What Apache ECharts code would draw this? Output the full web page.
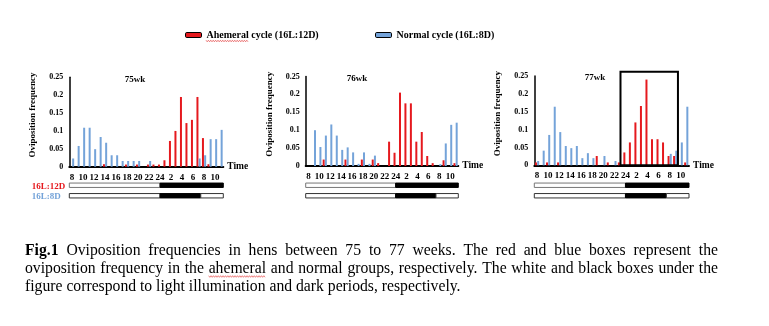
<!DOCTYPE html>
<html><head><meta charset="utf-8">
<script src="https://cdn.jsdelivr.net/npm/echarts@6/dist/echarts.min.js"></script>
<style>html,body{margin:0;padding:0;background:#fff}#c{width:769px;height:326px}</style>
</head><body><div id="c"></div>
<script>
// ---- data ----
const hours = ['8','9','10','11','12','13','14','15','16','17','18','19','20','21','22','23','24','1','2','3','4','5','6','7','8','9','10','11'];
const seriesNames = ['Ahemeral cycle (16L:12D)', 'Normal cycle (16L:8D)'];
const panelTitles = ['75wk', '76wk', '77wk'];
const red75  = [0,0,0,0,0,0,0.007,0,0,0,0.006,0,0.006,0,0.006,0.006,0.006,0.018,0.072,0.1,0.195,0.122,0.131,0.195,0.08,0.007,0,0];
const blue75 = [0.023,0.058,0.109,0.109,0.049,0.083,0.067,0.032,0.032,0.016,0.016,0.016,0.016,0,0.016,0,0,0,0,0,0,0,0,0.023,0.032,0.077,0.077,0.103];
const red76  = [0,0,0,0.018,0,0,0,0.018,0,0,0.018,0,0.018,0.008,0,0.068,0.037,0.205,0.175,0.175,0.068,0.095,0.028,0.008,0,0.016,0,0.008];
const blue76 = [0,0.1,0.053,0.085,0.116,0.085,0.045,0.052,0.038,0.006,0.038,0.006,0.029,0,0,0,0,0,0,0,0,0,0,0,0.005,0.063,0.115,0.121];
const red77  = [0.008,0,0.008,0,0.008,0,0,0,0,0,0,0.026,0,0.008,0,0.008,0.036,0.064,0.12,0.166,0.24,0.073,0.073,0.064,0.026,0.026,0,0.008];
const blue77 = [0.012,0.041,0.085,0.164,0.093,0.054,0.048,0.054,0.02,0.034,0.02,0,0.026,0,0.012,0,0,0,0,0,0,0,0,0,0.032,0.041,0.064,0.164];
const yTicks = {min: 0, max: 0.25, interval: 0.05};
// light / dark schedule on the hour-slot scale (0..28)
const sched12D = [[0, 16.5, 0, 0], [16.5, 28, 0, 1]];
const sched8D  = [[0, 16.5, 1, 0], [16.5, 23.9, 1, 1], [23.9, 28, 1, 0]];
const box77 = [[15.6, 26.0, 0.262]];
const captionLines = [
  'Fig.1 Oviposition frequencies in hens between 75 to 77 weeks. The red and blue boxes represent the',
  'oviposition frequency in the ahemeral and normal groups, respectively. The white and black boxes under the',
  'figure correspond to light illumination and dark periods, respectively.'
];
const reds = [red75, red76, red77];
const blues = [blue75, blue76, blue77];

// ---- layout ----
const FONT = '"Liberation Serif", "Times New Roman", serif';
const RED = '#E5191E', BLUE = '#74A3D9';
const panels = [
  {left: 69.3, top: 77.3, width: 154, height: 89.4, title: [135, 80]},
  {left: 305.7, top: 76.5, width: 152.6, height: 89.5, title: [357, 79]},
  {left: 534.3, top: 76, width: 154.7, height: 89.3, title: [595, 78]}
];

const chart = echarts.init(document.getElementById('c'), null, {renderer: 'canvas'});
const grid = [], xAxis = [], yAxis = [], series = [], graphic = [];

panels.forEach((p, i) => {
  grid.push({left: p.left, top: p.top, width: p.width, height: p.height, containLabel: false});
  xAxis.push({
    type: 'category', gridIndex: i, data: hours,
    axisLine: {lineStyle: {color: '#000', width: 2}},
    axisTick: {show: false},
    axisLabel: {interval: 1, margin: 6, color: '#000', fontFamily: FONT, fontWeight: 'bold', fontSize: 9},
    name: 'Time', nameLocation: 'end', nameGap: 4,
    nameTextStyle: {color: '#000', fontFamily: FONT, fontWeight: 'bold', fontSize: 9.5, padding: [4, 0, 0, 0]}
  });
  yAxis.push({
    type: 'value', gridIndex: i, min: yTicks.min, max: yTicks.max, interval: yTicks.interval,
    axisLine: {show: true, lineStyle: {color: '#000', width: 1.5}},
    axisTick: {show: false}, splitLine: {show: false},
    axisLabel: {margin: 6, color: '#000', fontFamily: FONT, fontWeight: 'bold', fontSize: 8},
    name: 'Oviposition frequency', nameLocation: 'middle', nameGap: 32,
    nameTextStyle: {color: '#000', fontFamily: FONT, fontWeight: 'bold', fontSize: 9, padding: [0, 0, 0, 14]}
  });
  series.push({
    type: 'bar', name: seriesNames[0], xAxisIndex: i, yAxisIndex: i, data: reds[i],
    barWidth: 2, barGap: '10%', itemStyle: {color: RED}
  });
  series.push({
    type: 'bar', name: seriesNames[1], xAxisIndex: i, yAxisIndex: i, data: blues[i],
    barWidth: 2, barGap: '10%', itemStyle: {color: BLUE}
  });
  graphic.push({type: 'text', x: p.title[0], y: p.title[1],
    style: {text: panelTitles[i], fill: '#000', fontFamily: FONT, fontWeight: 'bold', fontSize: 9, align: 'center', verticalAlign: 'middle'}});
});

// schedule grids
const rowStroke = ['#777', '#333'];
panels.forEach((p, i) => {
  const g = 3 + i;
  grid.push({left: p.left, top: 180, width: p.width, height: 21});
  xAxis.push({type: 'value', gridIndex: g, min: 0, max: 28, show: false});
  yAxis.push({type: 'category', gridIndex: g, data: ['12D', '8D'], inverse: true, show: false});
  series.push({
    type: 'custom', xAxisIndex: g, yAxisIndex: g, silent: true,
    data: sched12D.concat(sched8D),
    encode: {x: [0, 1], y: 2},
    renderItem: (params, api) => {
      const s = api.value(0), e = api.value(1), row = api.value(2), dark = api.value(3);
      const a = api.coord([s, row]), b = api.coord([e, row]);
      return {type: 'rect', shape: {x: a[0], y: a[1] - 2.2, width: b[0] - a[0], height: 4.4},
        style: {fill: dark ? '#000' : '#fff', stroke: dark ? '#000' : rowStroke[row], lineWidth: 1}};
    }
  });
});

// annotation box on panel 3
xAxis.push({type: 'value', gridIndex: 2, min: 0, max: 28, show: false});
series.push({
  type: 'custom', xAxisIndex: 6, yAxisIndex: 2, silent: true, clip: false, z: 5,
  data: box77, encode: {x: [0, 1], y: 2},
  renderItem: (params, api) => {
    const a = api.coord([api.value(0), 0]), b = api.coord([api.value(1), api.value(2)]);
    return {type: 'rect', shape: {x: a[0], y: b[1], width: b[0] - a[0], height: a[1] - b[1]},
      style: {fill: 'none', stroke: '#000', lineWidth: 2}};
  }
});

// row labels
graphic.push({type: 'text', x: 31.7, y: 186.3, style: {text: '16L:12D', fill: RED, fontFamily: FONT, fontWeight: 'bold', fontSize: 9, verticalAlign: 'middle'}});
graphic.push({type: 'text', x: 31.7, y: 196.6, style: {text: '16L:8D', fill: BLUE, fontFamily: FONT, fontWeight: 'bold', fontSize: 9, verticalAlign: 'middle'}});

// caption with justified lines
const mctx = document.createElement('canvas').getContext('2d');
function wavy(x0, x1, y) {
  const pts = [];
  let k = 0;
  for (let x = x0; x <= x1; x += 1.2, k++) pts.push([x, y + (k % 2 ? 0.8 : -0.8)]);
  return {type: 'polyline', shape: {points: pts}, style: {stroke: '#E03030', lineWidth: 0.6, fill: null}, silent: true};
}
const CAP_L = 25, CAP_R = 718, CAP_FS = 15.7;
const capY = [251, 269, 287];
captionLines.forEach((line, li) => {
  const words = line.split(' ');
  const fonts = words.map((w, wi) => (li === 0 && wi === 0 ? 'bold ' : '') + CAP_FS + 'px ' + FONT);
  const widths = words.map((w, wi) => { mctx.font = fonts[wi]; return mctx.measureText(w).width; });
  mctx.font = CAP_FS + 'px ' + FONT;
  const spaceW = mctx.measureText(' ').width;
  const total = widths.reduce((a, b) => a + b, 0);
  const gap = li < 2 ? (CAP_R - CAP_L - total) / (words.length - 1) : spaceW;
  let x = CAP_L;
  words.forEach((w, wi) => {
    graphic.push({type: 'text', x: x, y: capY[li], style: {text: w, fill: '#000', fontFamily: FONT,
      fontWeight: (li === 0 && wi === 0) ? 'bold' : 'normal', fontSize: CAP_FS, verticalAlign: 'middle'}});
    if (w === 'ahemeral') graphic.push(wavy(x, x + widths[wi], capY[li] + 7.5));
    x += widths[wi] + gap;
  });
});
// wavy underline under legend word
mctx.font = 'bold 10px ' + FONT;
const ahW = mctx.measureText('Ahemeral').width;
graphic.push(wavy(206, 206 + ahW, 41));

const legendBase = {
  top: 30, padding: 0, itemWidth: 16, itemHeight: 5, selectedMode: false,
  itemStyle: {borderColor: '#000', borderWidth: 1},
  textStyle: {color: '#000', fontFamily: FONT, fontWeight: 'bold', fontSize: 10}
};

chart.setOption({
  animation: false,
  backgroundColor: '#fff',
  legend: [
    Object.assign({}, legendBase, {left: 185, data: [seriesNames[0]]}),
    Object.assign({}, legendBase, {left: 375, data: [seriesNames[1]]})
  ],
  grid, xAxis, yAxis, series, graphic
});
</script>
</body></html>
